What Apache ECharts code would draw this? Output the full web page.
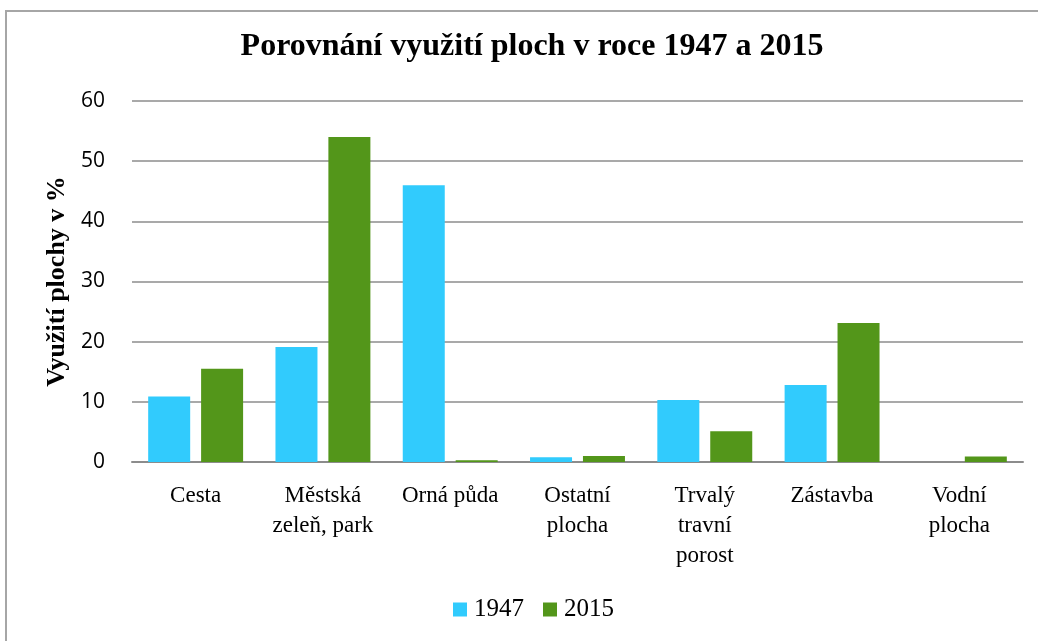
<!DOCTYPE html>
<html lang="cs">
<head>
    <meta charset="utf-8">
    <title>Porovnání využití ploch</title>
    <script src="https://cdn.jsdelivr.net/npm/echarts@6/dist/echarts.min.js"></script>
    <style>
        html, body { margin: 0; padding: 0; background: #fff; }
        #frame { position: absolute; left: 5px; top: 10px; width: 1100px; height: 700px; border: 2px solid #a6a6a6; box-sizing: border-box; }
        #box { position: absolute; left: 0; top: 0; width: 1038px; height: 641px; }
    </style>
</head>
<body>
    <div id="frame"></div>
    <div id="box"></div>
    <script>
        // data
        var categories = ['Cesta', 'Městská\nzeleň, park', 'Orná půda', 'Ostatní\nplocha', 'Trvalý\ntravní\nporost', 'Zástavba', 'Vodní\nplocha'];
        var values1947 = [10.9, 19.1, 46.0, 0.8, 10.3, 12.8, 0];
        var values2015 = [15.5, 54.0, 0.3, 1.0, 5.1, 23.1, 0.9];
        var yTicks = [0, 10, 20, 30, 40, 50, 60];

        var serif = '"Liberation Serif", "DejaVu Serif", serif';
        var myChart = echarts.init(document.getElementById('box'));

        var option = {
            animation: false,
            title: {
                text: 'Porovnání využití ploch v roce 1947 a 2015',
                left: 527,
                textAlign: 'center',
                top: 26,
                textStyle: { fontFamily: serif, fontSize: 32, fontWeight: 'bold', color: '#000' }
            },
            legend: {
                top: 592,
                left: 448,
                itemWidth: 14,
                itemHeight: 14,
                itemGap: 19,
                icon: 'rect',
                textStyle: { fontFamily: serif, fontSize: 25, color: '#000', padding: [0, 0, 0, 2] },
                data: ['1947', '2015']
            },
            grid: { left: 132, right: 15, top: 101, bottom: 179 },
            xAxis: {
                type: 'category',
                data: categories,
                axisTick: { show: false },
                axisLine: { lineStyle: { color: '#8c8c8c', width: 2 } },
                axisLabel: {
                    interval: 0,
                    margin: 19,
                    fontFamily: serif,
                    fontSize: 23,
                    lineHeight: 30,
                    color: '#000'
                }
            },
            yAxis: {
                type: 'value',
                min: yTicks[0],
                max: yTicks[yTicks.length - 1],
                interval: 10,
                name: 'Využití plochy v %',
                nameLocation: 'middle',
                nameGap: 62,
                nameTextStyle: { fontFamily: serif, fontSize: 26, fontWeight: 'bold', color: '#000' },
                axisLine: { show: false },
                axisTick: { show: false },
                splitLine: { lineStyle: { color: '#8c8c8c', width: 1.5 } },
                axisLabel: { margin: 27, fontFamily: '"Open Sans", "Noto Sans", sans-serif', fontSize: 21, color: '#000' }
            },
            series: [
                {
                    name: '1947',
                    type: 'bar',
                    data: values1947,
                    barWidth: 42,
                    barGap: '26%',
                    itemStyle: { color: '#31cbfd' }
                },
                {
                    name: '2015',
                    type: 'bar',
                    data: values2015,
                    barWidth: 42,
                    itemStyle: { color: '#53961a' }
                }
            ]
        };
        myChart.setOption(option, true);
    </script>
</body>
</html>
